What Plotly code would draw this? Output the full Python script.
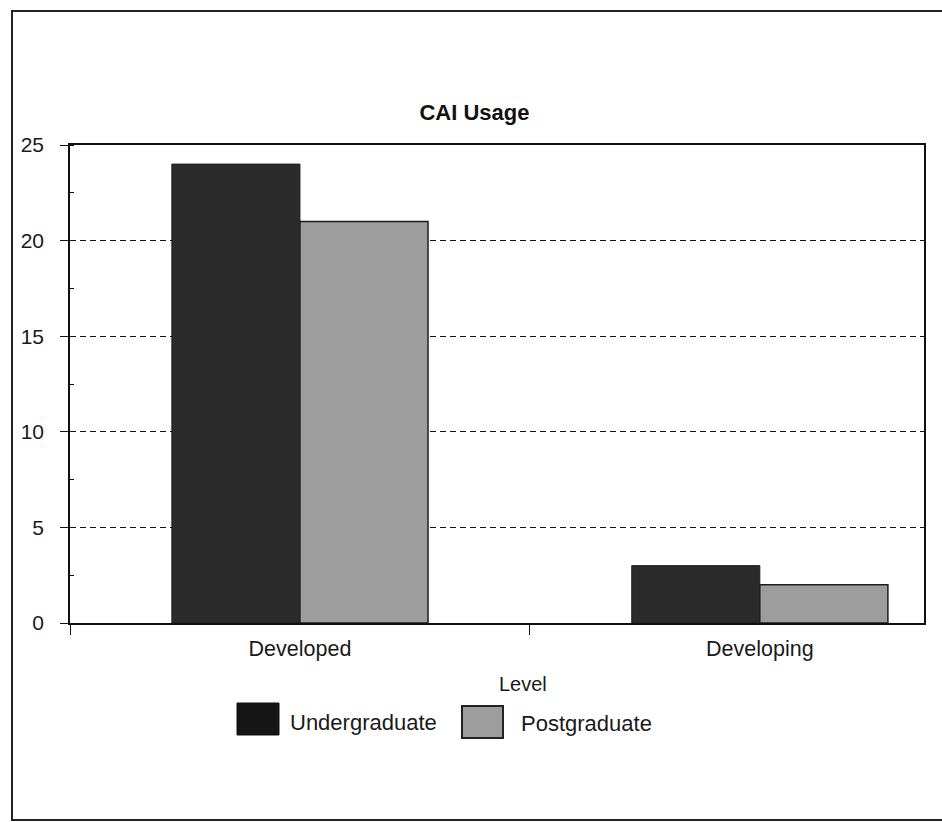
import plotly.graph_objects as go

# Data
levels = ["Developed", "Developing"]
undergraduate = [24, 3]
postgraduate = [21, 2]
series_names = ["Undergraduate", "Postgraduate"]
y_ticks = [0, 5, 10, 15, 20, 25]

# Styles
UG_COLOR = "#2b2b2b"
PG_COLOR = "#9d9d9d"
EDGE = "#1e1e1e"
FONT = "Arial, Liberation Sans, sans-serif"
TEXT = "#1a1a1a"

W, H = 942, 822
PLOT_L, PLOT_R, PLOT_T, PLOT_B = 70, 924, 145, 623


def px_x(x):
    return (x - PLOT_L) / (PLOT_R - PLOT_L)


def px_y(y):
    return (PLOT_B - y) / (PLOT_B - PLOT_T)


fig = go.Figure()
fig.add_trace(go.Bar(x=levels, y=undergraduate, name=series_names[0],
                     marker=dict(color=UG_COLOR, line=dict(color=EDGE, width=1)),
                     showlegend=False))
fig.add_trace(go.Bar(x=levels, y=postgraduate, name=series_names[1],
                     marker=dict(color=PG_COLOR, line=dict(color=EDGE, width=1.5)),
                     showlegend=False))

shapes = [
    # outer frame
    dict(type="rect", xref="paper", yref="paper",
         x0=px_x(12), x1=px_x(960), y0=px_y(820), y1=px_y(11),
         line=dict(color="#222222", width=2), fillcolor="rgba(0,0,0,0)", layer="above"),
    # legend swatches
    dict(type="rect", xref="paper", yref="paper",
         x0=px_x(237), x1=px_x(279), y0=px_y(735), y1=px_y(703),
         line=dict(color="#111111", width=1), fillcolor="#151515"),
    dict(type="rect", xref="paper", yref="paper",
         x0=px_x(462), x1=px_x(503), y0=px_y(738), y1=px_y(706),
         line=dict(color="#222222", width=2), fillcolor=PG_COLOR),
]

annotations = [
    dict(text="Level", xref="paper", yref="paper", x=px_x(523), y=px_y(684),
         xanchor="center", yanchor="middle", showarrow=False,
         font=dict(family=FONT, size=20, color=TEXT)),
    dict(text=series_names[0], xref="paper", yref="paper", x=px_x(288), y=px_y(722),
         xanchor="left", yanchor="middle", showarrow=False,
         font=dict(family=FONT, size=22, color=TEXT)),
    dict(text=series_names[1], xref="paper", yref="paper", x=px_x(519), y=px_y(723),
         xanchor="left", yanchor="middle", showarrow=False,
         font=dict(family=FONT, size=22, color=TEXT)),
]

fig.update_layout(
    width=W, height=H,
    margin=dict(l=PLOT_L, r=W - PLOT_R, t=PLOT_T, b=H - PLOT_B),
    paper_bgcolor="white", plot_bgcolor="white",
    barmode="group", bargap=0.443, bargroupgap=0,
    title=dict(text="<b>CAI Usage</b>", x=474.5 / W, xanchor="center",
               y=1 - 112 / H, yanchor="middle",
               font=dict(family=FONT, size=22, color="#111111")),
    font=dict(family=FONT, size=20, color=TEXT),
    shapes=shapes, annotations=annotations,
)

fig.update_xaxes(
    type="category", range=[-0.5, 1.357],
    showline=True, linecolor="#111111", linewidth=1.5, mirror=True,
    tickson="boundaries", ticks="outside", ticklen=10, tickcolor="#111111",
    showgrid=False, tickfont=dict(family=FONT, size=21.5, color=TEXT),
    ticklabelstandoff=5,
)

fig.update_yaxes(
    range=[0, 25], tickvals=y_ticks,
    showline=True, linecolor="#111111", linewidth=1.5, mirror=True,
    ticks="outside", ticklen=8, tickcolor="#111111",
    minor=dict(dtick=2.5, ticks="inside", ticklen=4, tickcolor="#111111", showgrid=False),
    showgrid=True, gridcolor="#111111", gridwidth=1, griddash="6px,4px",
    zeroline=False, tickfont=dict(family=FONT, size=21, color=TEXT),
    ticklabelstandoff=12,
)

fig.write_html("out.html")
